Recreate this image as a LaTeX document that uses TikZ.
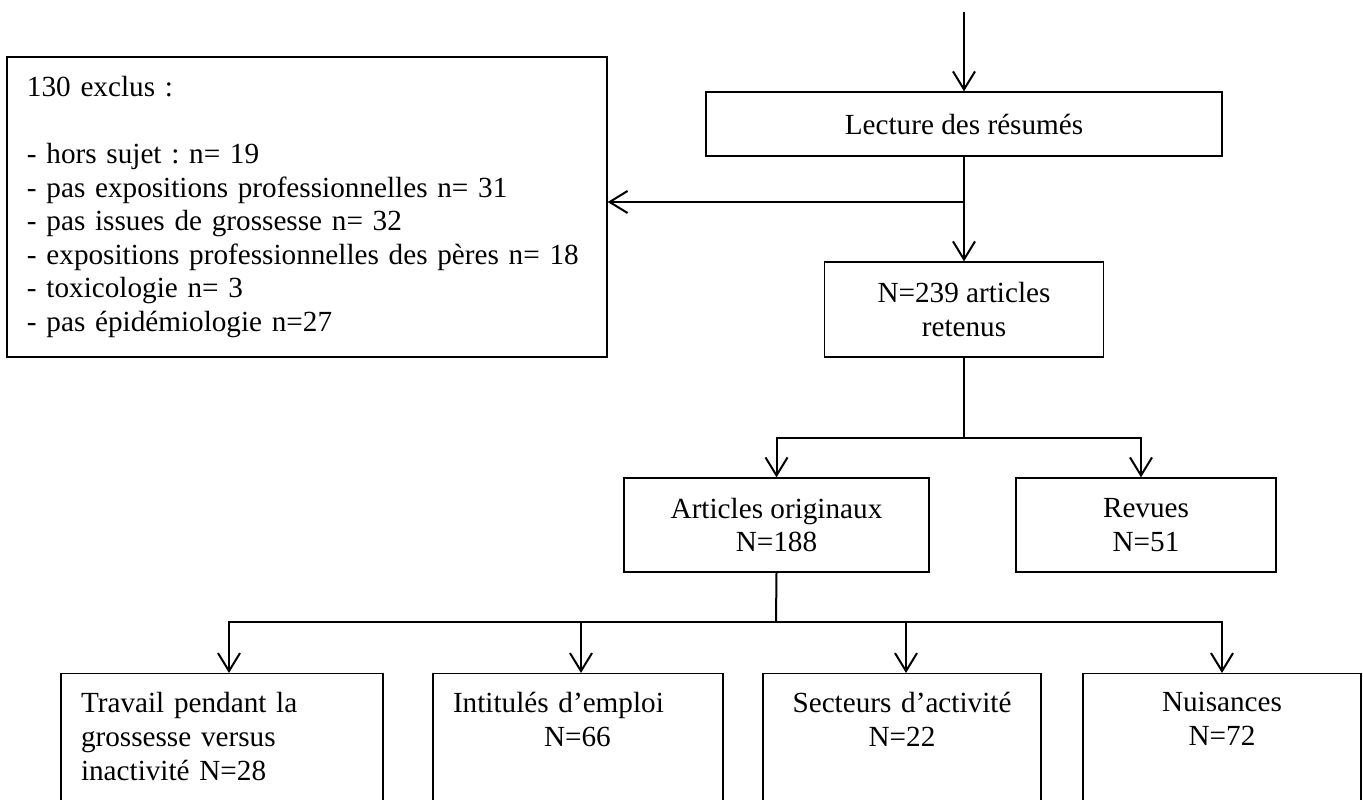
\documentclass[tikz,border=0pt]{standalone}
\usepackage{fontspec}
\setmainfont{Liberation Serif}
\usetikzlibrary{arrows.meta}

\begin{document}
\begin{tikzpicture}[x=1pt, y=-1pt,
    every node/.style={font=\fontsize{29.2}{33.6}\selectfont\frenchspacing},
    boite/.style={draw, line width=1.3pt, inner sep=0pt, align=center},
    bas/.style={boite, anchor=north, inner xsep=20pt, inner ysep=19pt, text depth=200pt},
    fleche/.style={line width=2pt, -{Straight Barb[length=18pt, width=22pt]}},
    trait/.style={line width=2pt}]
    \useasboundingbox (0,0) rectangle (1363,800);
    \fill[white] (0,0) rectangle (1363,800);
    \clip (0,0) rectangle (1363,800);

    \node[boite, minimum width=516pt, minimum height=64pt] (lecture) at (964,124) {Lecture des résumés};
    \node[boite, minimum width=279pt, minimum height=95pt] (retenus) at (964,309.5) {N=239 articles\\retenus};
    \node[boite, align=left, text width=560pt, inner xsep=20pt, minimum height=300pt] (exclus) at (307,207)
        {130 exclus :\\[33.6pt]
         - hors sujet : n= 19\\
         - pas expositions professionnelles n= 31\\
         - pas issues de grossesse n= 32\\
         - expositions professionnelles des pères n= 18\\
         - toxicologie n= 3\\
         - pas épidémiologie n=27};
    \node[boite, minimum width=305pt, minimum height=94pt] (orig) at (776.5,525) {Articles originaux\\N=188};
    \node[boite, minimum width=260pt, minimum height=94pt] (revues) at (1146,525) {Revues\\N=51};

    \node[bas, align=left, text width=282pt] (trav) at (222,673) {Travail pendant la\\grossesse versus\\inactivité N=28};
    \node[bas, align=left, text width=250pt] (emploi) at (578,673) {Intitulés d’emploi\\\hspace*{91pt}N=66};
    \node[bas, text width=238pt] (secteurs) at (902,673) {Secteurs d’activité\\N=22};
    \node[bas, text width=238pt] (nuis) at (1222,673) {Nuisances\\N=72};

    \coordinate (debut) at (964,12);
    \coordinate (bif1) at (964,202);
    \coordinate (bif2) at (964,438);
    \coordinate (bif3) at (776,622);

    \draw[fleche] (debut) -- (lecture.north);
    \draw[fleche] (lecture.south) -- (retenus.north);
    \draw[fleche] (bif1) -- (exclus.east |- bif1);
    \draw[trait] (retenus.south) -- (bif2);
    \draw[fleche] (bif2) -| (orig.north);
    \draw[fleche] (bif2) -| ([xshift=-5pt]revues.north);
    \draw[trait] (orig.south) -- (bif3);
    \draw[fleche] (bif3) -| ([xshift=7pt]trav.north);
    \draw[fleche] (bif3) -| ([xshift=3pt]emploi.north);
    \draw[fleche] (bif3) -| ([xshift=4pt]secteurs.north);
    \draw[fleche] (bif3) -| (nuis.north);
\end{tikzpicture}
\end{document}
